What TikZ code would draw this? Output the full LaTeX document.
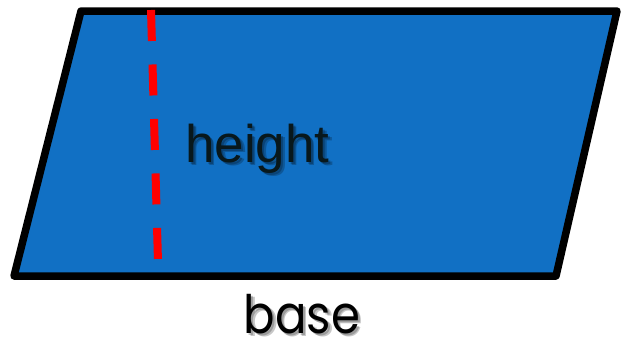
\documentclass[tikz,border=0pt]{standalone}
\usepackage{fontspec}
\setmainfont{Liberation Sans}
\newfontfamily\basefont{Poppins}
\definecolor{pblue}{RGB}{17,112,196}
\definecolor{txtdark}{RGB}{8,24,28}
\tikzset{
  pgram/.style={draw=black, line width=7.5pt, line join=round, fill=pblue},
  hline/.style={draw=red, line width=8pt, dash pattern=on 31pt off 23.5pt},
  shadowtxt/.style={text=black, text opacity=0.22, inner sep=0pt},
  lbl/.style={inner sep=0pt}
}
\begin{document}
\begin{tikzpicture}[x=1pt,y=-1pt]
\useasboundingbox (0,0) rectangle (623,343);
\coordinate (tl) at (81,11);
\coordinate (tr) at (617,11);
\coordinate (br) at (556,276);
\coordinate (bl) at (14,276);
\path[pgram] (tl) -- (tr) -- (br) -- (bl) -- cycle;
\coordinate (htop) at (151,10);
\coordinate (hbot) at (158,262);
\draw[hline] (htop) -- (hbot);
\node[shadowtxt, anchor=base west, font=\fontsize{53}{60}\selectfont] (hs1) at (187,164) {height};
\node[shadowtxt, anchor=base west, font=\fontsize{53}{60}\selectfont] (hs2) at (188.5,165.5) {height};
\node[lbl, anchor=base west, text=txtdark, font=\fontsize{53}{60}\selectfont] (h) at (185,162) {height};
\node[shadowtxt, anchor=base, xscale=0.88, font=\basefont\fontsize{53}{58}\selectfont] (bs1) at (304,335) {base};
\node[shadowtxt, anchor=base, xscale=0.88, font=\basefont\fontsize{53}{58}\selectfont] (bs2) at (305.5,336.5) {base};
\node[lbl, anchor=base, xscale=0.88, text=black, font=\basefont\fontsize{53}{58}\selectfont] (b) at (302,333) {base};
\end{tikzpicture}
\end{document}
